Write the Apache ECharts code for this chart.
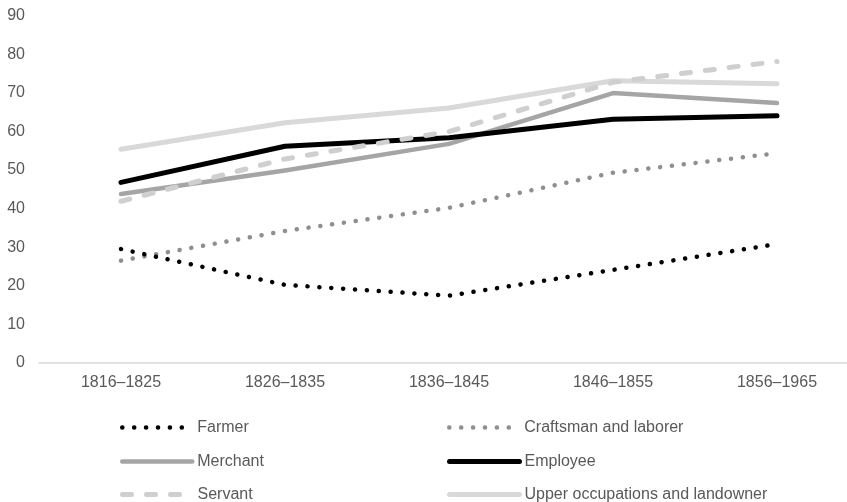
<!DOCTYPE html>
<html>
<head>
<meta charset="utf-8">
<script src="https://cdn.jsdelivr.net/npm/echarts@6/dist/echarts.min.js"></script>
<style>html,body{margin:0;padding:0;background:#fff}#c{width:847px;height:502px}</style>
</head>
<body>
<div id="c"></div>
<script>
var categories = ['1816–1825', '1826–1835', '1836–1845', '1846–1855', '1856–1965'];
var farmer = [29.5, 20.2, 17.4, 24.1, 30.8];
var craftsman = [26.5, 34.2, 40.2, 49.3, 54.4];
var merchant = [43.8, 49.9, 56.8, 70.0, 67.4];
var employee = [46.8, 56.2, 58.4, 63.2, 64.1];
var servant = [41.9, 52.9, 60.0, 72.8, 78.2];
var upper = [55.4, 62.3, 66.1, 73.2, 72.4];
var yTicks = [0, 10, 20, 30, 40, 50, 60, 70, 80, 90];
var legendOrder = ['Farmer', 'Craftsman and laborer', 'Merchant', 'Employee', 'Servant', 'Upper occupations and landowner'];

var font = 'Liberation Sans, Arial, sans-serif';
var textColor = '#595959';
var fs = 16;

function mk(name, data, color, width, type) {
  return {
    name: name, type: 'line', data: data, symbol: 'none', smooth: false,
    lineStyle: { color: color, width: width, type: type || 'solid', cap: 'round', join: 'round' },
    itemStyle: { color: color },
    emphasis: { disabled: true }
  };
}

var colLeft = [120, 447];
var colIconW = [70, 70];
var rowCenter = [426.5, 460.5, 493.5];
var legends = legendOrder.map(function (name, i) {
  var col = i % 2, row = Math.floor(i / 2);
  return {
    orient: 'horizontal', left: colLeft[col], top: rowCenter[row] - 7,
    itemWidth: colIconW[col], itemHeight: 14, padding: 0,
    itemStyle: { opacity: 0 },
    lineStyle: { width: 'inherit', type: 'inherit', cap: 'round' },
    textStyle: { color: textColor, fontSize: fs, fontFamily: font, lineHeight: 14 },
    data: [name]
  };
});

var chart = echarts.init(document.getElementById('c'), null, { renderer: 'canvas' });
chart.setOption({
  animation: false,
  backgroundColor: '#fff',
  grid: { left: 39, width: 820, top: 16, bottom: 139.3, containLabel: false, outerBoundsMode: 'none' },
  xAxis: {
    type: 'category', data: categories, boundaryGap: true,
    axisLine: { lineStyle: { color: '#d9d9d9', width: 1.5 } },
    axisTick: { show: false },
    axisLabel: { color: textColor, fontSize: fs, fontFamily: font, margin: 12 }
  },
  yAxis: {
    type: 'value', min: yTicks[0], max: yTicks[yTicks.length - 1], interval: 10,
    axisLine: { show: false }, axisTick: { show: false },
    splitLine: { show: false },
    axisLabel: { color: textColor, fontSize: fs, fontFamily: font, margin: 14 }
  },
  legend: legends,
  series: [
    mk('Upper occupations and landowner', upper, '#d9d9d9', 5),
    mk('Merchant', merchant, '#a5a5a5', 4.5),
    mk('Craftsman and laborer', craftsman, '#8f8f8f', 4.5, [0.1, 11.8]),
    mk('Farmer', farmer, '#000000', 4.5, [0.1, 11.8]),
    mk('Employee', employee, '#000000', 5),
    mk('Servant', servant, '#cfcfcf', 5, [9, 15])
  ]
});
</script>
</body>
</html>
